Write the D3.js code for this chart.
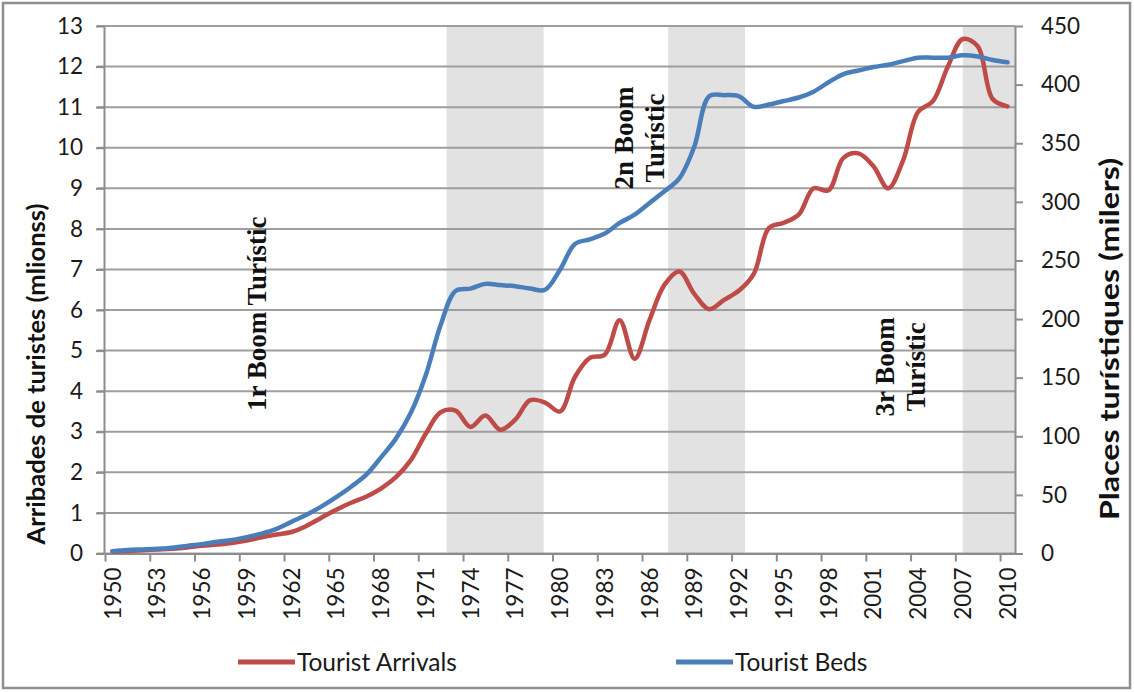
<!DOCTYPE html>
<html>
<head>
<meta charset="utf-8">
<script src="https://cdn.jsdelivr.net/npm/d3@7/dist/d3.min.js"></script>
<style>
  html, body { margin: 0; padding: 0; background: #fff; }
  svg { display: block; }
  .tick text { font-family: Lato, "Open Sans", sans-serif; fill: #1a1a1a; }
</style>
</head>
<body>
<svg id="chart" width="1134" height="692"></svg>
<script>
// ------------------------------------------------------------
// DATA
// ------------------------------------------------------------
const years = d3.range(1950, 2011);

// Tourist arrivals (millions) - left axis
const arrivals = [
  0.05, 0.06, 0.08, 0.10, 0.12, 0.15, 0.19, 0.22, 0.26, 0.32,
  0.40, 0.47, 0.53, 0.68, 0.88, 1.08, 1.25, 1.40, 1.60, 1.88,
  2.30, 2.95, 3.48, 3.52, 3.12, 3.40, 3.05, 3.30, 3.78, 3.72,
  3.50, 4.35, 4.82, 4.90, 5.75, 4.80, 5.75, 6.62, 6.95, 6.40,
  6.02, 6.25, 6.48, 6.90, 8.02, 8.15, 8.35, 9.00, 8.95, 9.75,
  9.86, 9.55, 9.00, 9.69, 10.88, 11.15, 12.00, 12.68, 12.50, 11.20,
  11.02
];

// Tourist beds (thousands) - right axis
const beds = [
  2, 3, 3.5, 4, 5, 6.5, 8, 10, 11.5, 14,
  17, 21, 27, 33, 40, 48, 57, 67, 82, 98,
  120, 152, 195, 224, 226, 230, 229, 228, 226, 225,
  242, 264, 268, 273, 282, 289, 299, 309, 320, 347,
  390, 391, 390, 381, 383, 386, 389, 394, 402, 409,
  412, 415, 417, 420, 423, 423, 423, 425, 424, 421,
  419
];

const leftTicks = d3.range(0, 14);
const rightTicks = d3.range(0, 451, 50);
const yearLabels = d3.range(1950, 2011, 3);

// shaded boom periods (start / end year)
const boomStart = [1972.4, 1987.25, 2007.0];
const boomEnd = [1978.9, 1992.4, 2010.5];

// boom annotations: lines of text, year and left-axis value of their centre
const boomText = [['1r Boom Turístic'], ['2n Boom', 'Turístic'], ['3r Boom', 'Turístic']];
const boomYear = [1959.67, 1985.3, 2002.8];
const boomValue = [5.91, 10.24, 4.6];

const seriesNames = ['Tourist Arrivals', 'Tourist Beds'];

// ------------------------------------------------------------
// SCALES
// ------------------------------------------------------------
const svg = d3.select('#chart');
const plot = { left: 105, right: 1015, top: 26, bottom: 553.5 };

const x = d3.scaleLinear().domain([1949.5, 2010.5]).range([plot.left, plot.right]);
const yL = d3.scaleLinear().domain([0, 13]).range([plot.bottom, plot.top]);
const yR = d3.scaleLinear().domain([0, 450]).range([plot.bottom, plot.top]);

const RED = '#BE4B48';
const BLUE = '#4A7EBB';
const GRID = '#9e9e9e';
const AXIS = '#8c8c8c';
const FONT = 'Lato, "Open Sans", sans-serif';

// outer frame
svg.append('rect')
  .attr('x', 3).attr('y', 3)
  .attr('width', 1127).attr('height', 685)
  .attr('fill', '#fff')
  .attr('stroke', '#8f8f8f')
  .attr('stroke-width', 2.5);

// shaded periods
svg.append('g')
  .selectAll('rect')
  .data(boomStart)
  .enter()
  .append('rect')
  .attr('x', (d) => x(d))
  .attr('y', plot.top)
  .attr('width', (d, i) => x(boomEnd[i]) - x(d))
  .attr('height', plot.bottom - plot.top)
  .attr('fill', '#e2e2e2');

// gridlines
svg.append('g')
  .selectAll('line')
  .data(leftTicks)
  .enter()
  .append('line')
  .attr('x1', plot.left - 8)
  .attr('x2', plot.right)
  .attr('y1', (d) => yL(d))
  .attr('y2', (d) => yL(d))
  .attr('stroke', GRID)
  .attr('stroke-width', 2);

// boom annotations
boomText.forEach((lines, i) => {
  const cx = x(boomYear[i]);
  const cy = yL(boomValue[i]);
  const n = lines.length;
  lines.forEach((txt, j) => {
    const lx = cx + (j - (n - 1) / 2) * 31;
    svg.append('text')
      .attr('transform', `translate(${lx},${cy}) rotate(-90)`)
      .attr('text-anchor', 'middle')
      .attr('dy', '0.35em')
      .attr('font-family', '"Liberation Serif", "Times New Roman", serif')
      .attr('font-weight', 'bold')
      .attr('font-size', 27)
      .attr('fill', '#111')
      .text(txt);
  });
});

// axes
const axisLeft = d3.axisLeft(yL).tickValues(leftTicks).tickSize(8).tickSizeOuter(0).tickPadding(13);
const axisRight = d3.axisRight(yR).tickValues(rightTicks).tickSize(8).tickSizeOuter(0).tickPadding(18);
const axisBottom = d3.axisBottom(x)
  .tickValues(d3.range(1949.5, 2010.6, 3))
  .tickSize(8)
  .tickSizeOuter(0)
  .tickFormat('');

function styleAxis(g) {
  g.select('.domain').attr('stroke', AXIS).attr('stroke-width', 2);
  g.selectAll('.tick line').attr('stroke', AXIS).attr('stroke-width', 2);
  g.selectAll('.tick text').attr('font-size', 22.5);
}

svg.append('g')
  .attr('transform', `translate(${plot.left - 1},0)`)
  .call(axisLeft)
  .call(styleAxis);

svg.append('g')
  .attr('transform', `translate(${plot.right},0)`)
  .call(axisRight)
  .call(styleAxis);

svg.append('g')
  .attr('transform', `translate(0,${plot.bottom})`)
  .call(axisBottom)
  .call(styleAxis);

// year labels, rotated, centred on each category
svg.append('g')
  .selectAll('text')
  .data(yearLabels)
  .enter()
  .append('text')
  .attr('transform', (d) => `translate(${x(d)},${plot.bottom + 14}) rotate(-90)`)
  .attr('text-anchor', 'end')
  .attr('dy', '0.36em')
  .attr('font-family', FONT)
  .attr('font-size', 22.5)
  .attr('fill', '#1a1a1a')
  .text((d) => d);

// lines
const lineL = d3.line()
  .x((d, i) => x(years[i]))
  .y((d) => yL(d))
  .curve(d3.curveCatmullRom);

const lineR = d3.line()
  .x((d, i) => x(years[i]))
  .y((d) => yR(d))
  .curve(d3.curveCatmullRom);

svg.append('path')
  .datum(arrivals)
  .attr('d', lineL)
  .attr('fill', 'none')
  .attr('stroke', RED)
  .attr('stroke-width', 4.5)
  .attr('stroke-linejoin', 'round')
  .attr('stroke-linecap', 'round');

svg.append('path')
  .datum(beds)
  .attr('d', lineR)
  .attr('fill', 'none')
  .attr('stroke', BLUE)
  .attr('stroke-width', 4.5)
  .attr('stroke-linejoin', 'round')
  .attr('stroke-linecap', 'round');

// axis titles
svg.append('text')
  .attr('transform', 'translate(36,374) rotate(-90)')
  .attr('text-anchor', 'middle')
  .attr('dy', '0.35em')
  .attr('font-family', FONT)
  .attr('font-weight', 'bold')
  .attr('font-size', 25.5)
  .attr('fill', '#111')
  .text('Arribades de turistes (mlionss)');

svg.append('text')
  .attr('transform', 'translate(1110,339) rotate(-90)')
  .attr('text-anchor', 'middle')
  .attr('dy', '0.35em')
  .attr('font-family', FONT)
  .attr('font-weight', 'bold')
  .attr('font-size', 26)
  .attr('textLength', 362)
  .attr('lengthAdjust', 'spacingAndGlyphs')
  .attr('fill', '#111')
  .text('Places turístiques (milers)');

// legend
const legendX = [238, 676];
const legend = svg.append('g')
  .selectAll('g')
  .data(seriesNames)
  .enter()
  .append('g')
  .attr('transform', (d, i) => `translate(${legendX[i]},662)`);

legend.append('line')
  .attr('x1', 0).attr('x2', 57)
  .attr('stroke', (d, i) => (i === 0 ? RED : BLUE))
  .attr('stroke-width', 5);

legend.append('text')
  .attr('x', 59)
  .attr('dy', '0.35em')
  .attr('font-family', FONT)
  .attr('font-size', 24.5)
  .attr('fill', '#1a1a1a')
  .text((d) => d);
</script>
</body>
</html>
